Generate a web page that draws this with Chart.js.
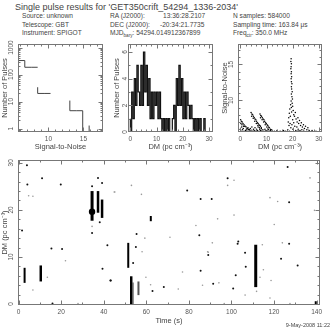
<!DOCTYPE html>
<html>
<head>
<meta charset="utf-8">
<script src="https://cdn.jsdelivr.net/npm/chart.js@4/dist/chart.umd.min.js"></script>
<style>
  body { margin: 0; background: #fff; }
  #wrap { position: relative; width: 332px; height: 332px; overflow: hidden;
          font-family: "Liberation Sans", Arial, sans-serif; color: #444; }
  #wrap canvas { position: absolute; left: 0; top: 0; }
  .txt { position: absolute; white-space: nowrap; line-height: 1; }
  .info { font-size: 6.6px; }
  sub { font-size: 4.6px; vertical-align: -1.5px; }
</style>
</head>
<body>
<div id="wrap">
  <div class="txt" style="left:15px;top:3px;font-size:9px">Single pulse results for 'GET350crift_54294_1336-2034'</div>

  <div class="txt info" style="left:22px;top:13px">Source: unknown</div>
  <div class="txt info" style="left:22px;top:21.5px">Telescope: GBT</div>
  <div class="txt info" style="left:22px;top:30px">Instrument: SPIGOT</div>

  <div class="txt info" style="left:110px;top:13px">RA (J2000):</div>
  <div class="txt info" style="left:163px;top:13px">13:36:28.2107</div>
  <div class="txt info" style="left:110px;top:21.5px">DEC (J2000):</div>
  <div class="txt info" style="left:160px;top:21.5px">-20:34:21.7735</div>
  <div class="txt info" style="left:110px;top:30px">MJD<sub>bary</sub>: 54294.014912367899</div>

  <div class="txt info" style="left:233px;top:13px">N samples: 584000</div>
  <div class="txt info" style="left:233px;top:21.5px">Sampling time: 163.84 μs</div>
  <div class="txt info" style="left:233px;top:30px">Freq<sub>ctr</sub>: 350.0 MHz</div>

  <canvas id="snrHist" width="332" height="332"></canvas>
  <canvas id="dmHist" width="332" height="332"></canvas>
  <canvas id="snrDm" width="332" height="332"></canvas>
  <canvas id="timeDm" width="332" height="332"></canvas>

  <div class="txt" style="right:2px;top:323px;font-size:5.5px">9-May-2008 11:22</div>
</div>

<script>
// ---- data ----

// S/N histogram (log counts); null breaks the outline, 0.5 = drop below the axis
const snrHistX      = [5.7, 6.62, 7.54, 8.46, 8.46, 8.46, 9.38, 10.3, 10.3, 13.06, 13.98, 14.9, 14.9, 14.9, 15.82, 15.82];
const snrHistCounts = [773, 330, 186, 186, null, 34, 20, 20, null, 10.9, 4.6, 4.6, 0.5, null, 0.5, 1.3];

// DM histogram, 0.5 pc/cm^3 bins
const dmBinStart = [0, 0.5, 1, 1.5, 2, 2.5, 3, 3.5, 4, 4.5, 5, 5.5, 6, 6.5, 7, 7.5, 8, 8.5, 9, 9.5,
                    10, 10.5, 11, 11.5, 12, 12.5, 13, 13.5, 14, 14.5, 15, 15.5, 16, 16.5, 17, 17.5, 18, 18.5, 19, 19.5,
                    20, 20.5, 21, 21.5, 22, 22.5, 23, 23.5, 24, 24.5, 25, 25.5, 26, 26.5, 27, 27.5, 28, 28.5, 29, 29.5, 30];
const dmCounts   = [1, 0, 3, 1, 4, 2, 5, 3, 2, 5, 2, 6, 3, 5, 2, 4, 1, 3, 1, 3,
                    2, 3, 1, 3, 1, 0, 1, 0, 1, 0, 1, 0, 0, 1, 2, 0, 4, 2, 5, 2,
                    4, 1, 3, 1, 3, 2, 1, 2, 1, 0, 1, 0, 1, 0, 1, 0, 0, 1, 0, 0, 0];

// S/N vs DM  [dm, snr]
const snrVsDm = [
  [0.0,6.0],[0.3,5.7],[0.5,6.3],[0.8,5.9],[1.1,6.1],[1.4,5.7],[1.7,6.4],[2.0,5.8],[2.3,6.0],[2.6,5.7],
  [2.9,6.2],[3.2,5.9],[3.5,5.7],[3.8,6.1],[4.1,5.8],[4.4,6.3],[4.7,5.7],[5.0,6.0],[5.3,5.8],[5.6,6.2],
  [5.9,5.7],[6.2,6.0],[6.5,5.8],[6.8,6.3],[7.1,5.7],[7.4,6.0],[7.7,5.8],[8.0,6.1],[8.3,5.7],[8.6,5.9],
  [9.0,5.7],[9.4,6.0],[9.8,5.8],[10.2,5.7],[10.6,5.9],[11.0,5.7],[11.5,5.8],[12.2,5.7],
  [0.1,7.3],[0.4,7.1],[0.7,7.0],[1.0,6.8],[1.4,6.6],[1.8,6.4],[2.2,6.3],[2.6,6.1],[3.0,6.0],[3.5,5.9],
  [0.2,6.8],[0.6,6.6],[1.2,6.4],
  [4.1,8.3],[4.4,8.1],[4.7,8.0],[5.0,7.8],[5.3,7.6],[5.6,7.4],[5.9,7.3],[6.2,7.1],[6.5,6.9],[6.8,6.8],
  [7.1,6.6],[7.4,6.5],[7.7,6.4],[8.0,6.2],[4.3,7.8],[4.9,7.5],[5.5,7.1],[6.1,6.8],[6.7,6.5],[7.3,6.2],
  [7.5,8.1],[7.8,7.9],[8.1,7.8],[8.4,7.6],[8.7,7.4],[9.0,7.3],[9.3,7.1],[9.6,6.9],[9.9,6.8],[10.2,6.6],
  [10.5,6.5],[10.8,6.3],[11.1,6.2],[11.5,6.0],[11.8,5.9],[7.7,7.6],[8.3,7.3],[8.9,7.0],[9.5,6.6],[10.1,6.3],[10.7,6.0],
  [13.0,5.7],[14.0,5.8],[15.2,5.7],[16.5,5.8],[17.3,5.7],
  [19.4,15.8],[19.3,15.4],[19.5,15.1],[19.4,14.7],[19.3,14.4],[19.5,14.0],[19.4,13.7],[19.6,13.3],[19.4,13.0],[19.5,12.6],
  [19.7,12.3],[19.5,11.9],[19.6,11.6],[19.8,11.2],[19.5,10.9],[19.7,10.5],[19.9,10.2],[19.4,9.9],[19.8,9.6],[19.2,9.4],
  [20.0,9.2],[19.5,9.0],[18.9,8.8],[20.2,8.6],[19.6,8.4],[18.7,8.2],[20.4,8.0],[19.1,7.8],[18.5,7.6],
  [20.7,7.8],[21.0,8.3],[21.3,7.4],[21.7,7.0],[22.0,7.6],[22.3,6.8],[22.6,7.2],[23.0,6.5],[23.3,6.9],[23.7,6.3],
  [24.1,6.6],[24.5,6.1],[24.9,6.4],[25.4,5.9],[25.8,6.2],[26.3,5.8],[18.3,7.0],[18.6,6.5],[19.0,6.8],[19.3,6.2],
  [19.7,6.6],[20.1,6.0],[20.4,6.9],[20.8,6.4],[21.2,5.8],[21.6,6.3],[22.1,6.0],[22.8,5.8],[23.5,5.9],[24.3,5.7],
  [18.1,5.9],[18.8,5.7],[20.0,7.3],[21.9,5.7],[27.4,5.8],[28.9,5.7]
];

// DM vs time  [t, dm]
const brightPulses = [
  [3.9,29.5],[11.0,26.7],[4.1,25.4],[19.8,25.4],[1.6,15.6],[15.4,11.8],[20.4,11.7],[15.9,0.1],[37.3,26.8],[34.5,25.0],
  [39.2,25.7],[38.1,17.4],[34.5,15.1],[41.7,12.5],[39.4,7.5],[43.3,5.0],[79.2,24.1],[85.5,22.3],[55.4,14.9],[84.9,14.6],
  [55.1,12.1],[53.8,8.7],[85.5,7.1],[43.1,5.0],[68.2,3.6],[62.9,2.8],[126.4,29.1],[98.2,26.7],[90.7,22.3],[127.1,21.6],
  [103.2,13.3],[102.9,12.8],[127.1,12.8],[89.1,10.4],[106.4,10.9],[123.3,9.6],[131.1,8.2],[106.7,7.9],[102.0,6.1],
  [91.4,4.3],[100.8,3.3]
];
const faintPulses = [
  [4.7,23.0],[6.7,22.9],[22.0,9.2],[13.5,5.7],[6.7,3.0],[27.9,0.1],[44.9,23.8],[34.5,16.5],[53.0,25.2],[45.2,23.8],
  [57.7,23.3],[83.3,16.7],[59.3,14.0],[71.1,14.2],[58.0,11.1],[89.1,11.0],[77.0,6.8],[59.8,5.7],[62.0,4.1],[75.0,3.2],
  [86.4,4.0],[101.2,26.3],[98.2,25.2],[136.9,26.8],[118.1,22.6],[121.7,21.8],[139.0,19.9],[93.5,18.1],[101.2,18.9],
  [120.1,16.9],[91.0,13.0],[114.5,12.6],[123.9,13.0],[88.8,11.1],[115.0,7.3],[113.4,5.7],[118.6,5.0],[94.1,4.5],
  [111.8,2.7],[106.4,1.9],[118.1,1.3],[96.6,0.1],[127.5,0.1]
];
const strongPulses = [[34.5, 19.6]];
// streaks of pulses at one time over a DM range
const streakTime  = [2.8, 10.4, 34.5, 37.3, 39.2, 51.5, 52.9, 53.8, 56.3, 62.1, 111.4, 139.6];
const streakDmLow = [4.5, 4.8, 17.7, 19.4, 18.3, 7.7, -0.1, 0.0, 1.9, 17.6, 3.6, 0.0];
const streakDmHigh= [7.7, 8.2, 24.0, 24.0, 22.2, 13.0, 5.9, 4.6, 4.8, 18.7, 12.6, 0.6];

// tick labels
const snrTicks = [10, 15];
const pulseCountLogTicks = [1, 10, 100, 1000];
const dmTicks = [0, 10, 20, 30];
const countTicks = [0, 2, 4, 6];
const timeTicks = [0, 20, 40, 60, 80, 100, 120, 140];

// ---- styling ----
const streakWidths = [2, 2.5, 3, 2.5, 2.5, 2, 2.5, 1.5, 2, 2, 3, 2];
const streakColors = ['#000', '#000', '#000', '#000', '#000', '#000', '#000', '#888', '#555', '#000', '#000', '#000'];
const FONT = "'Liberation Sans', Arial, sans-serif";
const tickFont = { family: FONT, size: 6.5 };
const titleFont = { family: FONT, size: 7.5 };

// box around the plot with inward ticks on all four sides (PGPLOT look)
const frameTicks = {
  id: 'frameTicks',
  afterDatasetsDraw(chart, args, o) {
    const { ctx, chartArea: a } = chart;
    const sx = chart.scales.x, sy = chart.scales.y;
    const L = Math.round(a.left) + 0.5, R = Math.round(a.right) - 0.5;
    const T = Math.round(a.top) + 0.5, B = Math.round(a.bottom) - 0.5;
    ctx.save();
    ctx.strokeStyle = '#777';
    ctx.lineWidth = 1;
    ctx.strokeRect(L, T, R - L, B - T);
    const seg = (x1, y1, x2, y2) => { ctx.beginPath(); ctx.moveTo(x1, y1); ctx.lineTo(x2, y2); ctx.stroke(); };
    const mark = (scale, v, len) => {
      const p = Math.round(scale.getPixelForValue(v)) + 0.5;
      if (scale.isHorizontal()) {
        if (p < L || p > R) return;
        seg(p, B, p, B - len); seg(p, T, p, T + len);
      } else {
        if (p < T || p > B) return;
        seg(L, p, L + len, p); seg(R, p, R - len, p);
      }
    };
    const minors = (scale, step) => {
      const out = [];
      if (step === 'log') {
        for (let e = -1; e <= 4; e++) for (let k = 2; k < 10; k++) {
          const v = k * Math.pow(10, e);
          if (v > scale.min && v < scale.max) out.push(v);
        }
      } else {
        for (let v = Math.ceil(scale.min / step) * step; v <= scale.max; v += step) out.push(v);
      }
      return out;
    };
    minors(sx, o.xMinor).forEach(v => mark(sx, v, 2));
    minors(sy, o.yMinor).forEach(v => mark(sy, v, 2));
    sx.ticks.forEach(t => mark(sx, t.value, 4));
    sy.ticks.forEach(t => mark(sy, t.value, 4));
    ctx.restore();
  }
};

function axis(cfg, vertical) {
  return {
    type: cfg.type || 'linear',
    min: cfg.min,
    max: cfg.max,
    afterBuildTicks: s => { s.ticks = cfg.ticks.map(v => ({ value: v })); },
    afterFit: s => { if (vertical) s.width = cfg.room; else s.height = cfg.room; },
    grid: { display: false, drawTicks: false },
    border: { display: false },
    ticks: {
      font: tickFont, color: '#555', padding: cfg.pad, autoSkip: false,
      minRotation: vertical ? 90 : 0, maxRotation: vertical ? 90 : 0,
      crossAlign: vertical ? 'center' : 'near',
      callback: v => String(v)
    },
    title: { display: true, text: cfg.title, font: titleFont, color: '#444', padding: cfg.titlePad }
  };
}

// box = [left, top, right, bottom] of the plot area on the page
function panel(id, box, xCfg, yCfg, datasets, minor) {
  const [L, T, R, B] = box;
  return new Chart(document.getElementById(id), {
    type: 'scatter',
    data: { datasets },
    options: {
      responsive: false,
      animation: false,
      events: [],
      layout: { padding: { left: L - yCfg.room, top: T, right: 332 - R, bottom: 332 - B - xCfg.room } },
      plugins: { legend: { display: false }, tooltip: { enabled: false }, frameTicks: minor },
      scales: { x: axis(xCfg, false), y: axis(yCfg, true) }
    },
    plugins: [frameTicks]
  });
}

const toXY = pairs => pairs.map(p => ({ x: p[0], y: p[1] }));

// top left: number of pulses vs S/N
panel('snrHist', [18, 44, 103, 132],
  { min: 5.65, max: 17.8, ticks: snrTicks, room: 20, pad: 3, title: 'Signal-to-Noise', titlePad: { bottom: 0.5 } },
  { type: 'logarithmic', min: 0.75, max: 1350, ticks: pulseCountLogTicks, room: 18, pad: -0.2, title: 'Number of Pulses', titlePad: { top: 0 } },
  [{
    type: 'line',
    data: snrHistX.map((x, i) => ({ x, y: snrHistCounts[i] })),
    stepped: 'after', spanGaps: false, borderColor: '#444', borderWidth: 1, pointRadius: 0, fill: false
  }],
  { xMinor: 1, yMinor: 'log' });

// top middle: number of pulses vs DM
panel('dmHist', [128, 44, 213, 132],
  { min: -0.9, max: 31.5, ticks: dmTicks, room: 20, pad: 3, title: 'DM (pc cm⁻³)', titlePad: { bottom: 0.5 } },
  { min: 0, max: 6.6, ticks: countTicks, room: 16, pad: 1.2, title: 'Number of Pulses', titlePad: { top: 0 } },
  [{
    type: 'line',
    data: dmBinStart.map((x, i) => ({ x, y: dmCounts[i] })),
    stepped: 'after', borderColor: '#111', borderWidth: 1.2, pointRadius: 0, fill: false
  }],
  { xMinor: 2, yMinor: 1 });

// top right: S/N vs DM
panel('snrDm', [238, 44, 322, 132],
  { min: -0.9, max: 31.2, ticks: dmTicks, room: 20, pad: 3, title: 'DM (pc cm⁻³)', titlePad: { bottom: 0.5 } },
  { min: 5.6, max: 17.85, ticks: snrTicks, room: 18, pad: 2.7, title: 'Signal-to-Noise', titlePad: { top: 0 } },
  [{ data: toXY(snrVsDm), pointRadius: 0.75, pointBorderWidth: 0, pointBackgroundColor: '#000' }],
  { xMinor: 2, yMinor: 1 });

// bottom: DM vs time
const streakSets = streakTime.map((t, i) => ({
  data: [{ x: t, y: streakDmLow[i] }, { x: t, y: streakDmHigh[i] }],
  showLine: true, borderColor: streakColors[i], borderWidth: streakWidths[i], pointRadius: 0
}));
panel('timeDm', [18, 160, 320, 305],
  { min: -0.3, max: 141.6, ticks: timeTicks, room: 22, pad: 3, title: 'Time (s)', titlePad: { bottom: 1.5 } },
  { min: -0.2, max: 30.6, ticks: dmTicks, room: 18, pad: 3.4, title: 'DM (pc cm⁻³)', titlePad: { top: 0.5 } },
  [
    { data: toXY(faintPulses), pointRadius: 0.8, pointBorderWidth: 0, pointBackgroundColor: '#999' },
    { data: toXY(brightPulses), pointRadius: 1.0, pointBorderWidth: 0, pointBackgroundColor: '#111' },
    ...streakSets,
    { data: toXY(strongPulses), pointRadius: 3.2, pointBorderWidth: 0, pointBackgroundColor: '#000' }
  ],
  { xMinor: 10, yMinor: 2 });
</script>
</body>
</html>
